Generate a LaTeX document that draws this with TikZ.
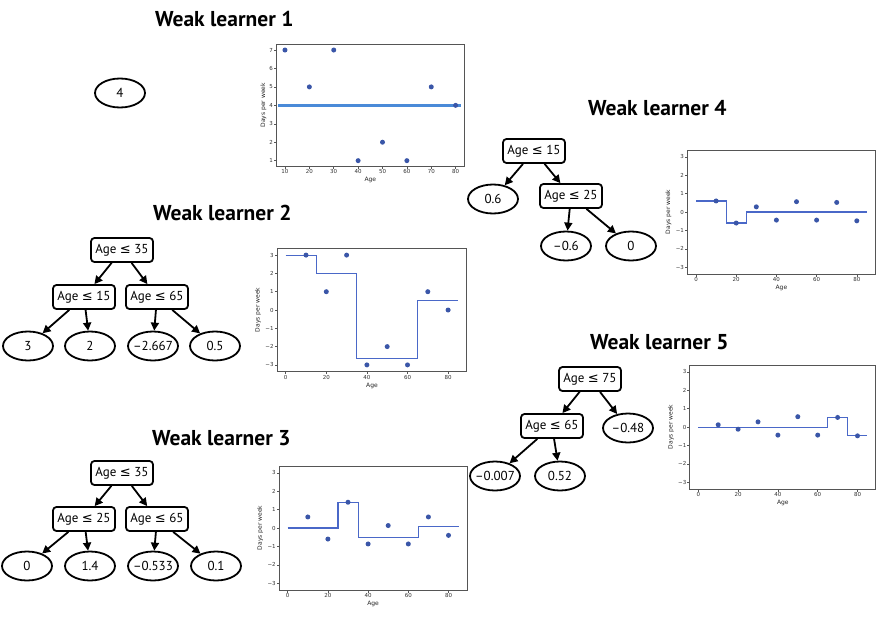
\documentclass[tikz,border=0pt]{standalone}
\usepackage{fontspec}
\setmainfont{PT Sans}
\newfontfamily\dvs{DejaVu Sans}
\usetikzlibrary{shapes.geometric,arrows.meta}
\definecolor{ptblue}{HTML}{3A56A8}
\definecolor{lnblue}{HTML}{4A68C8}
\definecolor{meanblue}{HTML}{4A8AD8}
\definecolor{framec}{HTML}{555555}
\newcommand{\lesym}{{\dvs ≤}}
\tikzset{
  split/.style={draw, line width=1.8pt, rounded corners=3.5pt, minimum width=62pt, minimum height=24pt, inner sep=2pt, font=\fontsize{13}{15}\selectfont},
  leaf/.style={draw, ellipse, line width=1.8pt, minimum width=50pt, minimum height=29pt, inner xsep=-3pt, inner ysep=1pt, font=\fontsize{13}{15}\selectfont},
  edge/.style={line width=1.8pt, -{Triangle[length=8pt,width=8pt]}},
  title/.style={anchor=base west, inner sep=0pt, font=\fontsize{21.5}{24}\selectfont\bfseries},
  ticklab/.style={font=\dvs\fontsize{5.5}{6}\selectfont, text=black!80, inner sep=0.8pt},
  axlab/.style={font=\dvs\fontsize{6}{7}\selectfont, text=black!85, inner sep=0pt},
  frm/.style={framec, line width=0.9pt},
  tck/.style={framec, line width=0.5pt},
  dot/.style={fill=ptblue},
  stepline/.style={lnblue, line width=1.1pt}
}
\newcommand{\residaxes}{%
  \draw[frm] (-4.25,-3.37) rectangle (89.25,3.37);
  \foreach \t in {0,20,40,60,80} {\draw[tck] (\t,-3.37) -- ++(0,-2.5pt) node[below,ticklab]{\t};}
  \foreach \t/\l in {-3/−3,-2/−2,-1/−1,0/0,1/1,2/2,3/3} {\draw[tck] (-4.25,\t) -- ++(-2.5pt,0) node[left,ticklab]{\l};}
  \path (42.5,-3.37) ++(0,-11pt) node[below,axlab]{Age};
  \path (-4.25,0) ++(-19pt,0) node[axlab,rotate=90]{Days per week};
}
\begin{document}
\begin{tikzpicture}[x=1pt,y=-1pt]
\useasboundingbox (0,0) rectangle (891,621);
\fill[white] (0,0) rectangle (891,621);

% titles
\node[title] (t1) at (155,27) {Weak learner 1};
\node[title] (t2) at (153,220) {Weak learner 2};
\node[title] (t3) at (152,445) {Weak learner 3};
\node[title] (t4) at (588,115) {Weak learner 4};
\node[title] (t5) at (590,349) {Weak learner 5};

% tree 1
\node[leaf] (L1) at (120,93) {4};

% tree 2
\node[split] (r2) at (122,250) {Age \lesym{} 35};
\node[split] (a2) at (84,297) {Age \lesym{} 15};
\node[split] (b2) at (157,297) {Age \lesym{} 65};
\node[leaf] (c2) at (28,346) {3};
\node[leaf] (d2) at (90,346) {2};
\node[leaf] (e2) at (153,346) {–2.667};
\node[leaf] (f2) at (215,346) {0.5};
\draw[edge] (r2) -- (a2);
\draw[edge] (r2) -- (b2);
\draw[edge] (a2) -- (c2);
\draw[edge] (a2) -- (d2);
\draw[edge] (b2) -- (e2);
\draw[edge] (b2) -- (f2);

% tree 3
\node[split] (r3) at (122,473) {Age \lesym{} 35};
\node[split] (a3) at (84,519) {Age \lesym{} 25};
\node[split] (b3) at (157,519) {Age \lesym{} 65};
\node[leaf] (c3) at (27,566) {0};
\node[leaf] (d3) at (90,566) {1.4};
\node[leaf] (e3) at (153,566) {–0.533};
\node[leaf] (f3) at (216,566) {0.1};
\draw[edge] (r3) -- (a3);
\draw[edge] (r3) -- (b3);
\draw[edge] (a3) -- (c3);
\draw[edge] (a3) -- (d3);
\draw[edge] (b3) -- (e3);
\draw[edge] (b3) -- (f3);

% tree 4
\node[split] (r4) at (534,151) {Age \lesym{} 15};
\node[leaf] (l4) at (493,199) {0.6};
\node[split] (a4) at (571,196) {Age \lesym{} 25};
\node[leaf] (c4) at (566,246) {–0.6};
\node[leaf] (d4) at (631,246) {0};
\draw[edge] (r4) -- (l4);
\draw[edge] (r4) -- (a4);
\draw[edge] (a4) -- (c4);
\draw[edge] (a4) -- (d4);

% tree 5
\node[split] (r5) at (590,379) {Age \lesym{} 75};
\node[split] (a5) at (552,426) {Age \lesym{} 65};
\node[leaf] (l5) at (628,428) {–0.48};
\node[leaf] (c5) at (495,476) {–0.007};
\node[leaf] (d5) at (560,476) {0.52};
\draw[edge] (r5) -- (a5);
\draw[edge] (r5) -- (l5);
\draw[edge] (a5) -- (c5);
\draw[edge] (a5) -- (d5);

% plot 1
\begin{scope}[shift={(260.6pt,-179.1pt)}, x=2.438pt, y=18.44pt]
  \draw[frm] (6.5,0.7) rectangle (83.5,7.3);
  \foreach \t in {10,20,...,80} {\draw[tck] (\t,0.7) -- ++(0,-2.5pt) node[below,ticklab]{\t};}
  \foreach \t in {1,...,7} {\draw[tck] (6.5,\t) -- ++(-2.5pt,0) node[left,ticklab]{\t};}
  \path (45,0.7) ++(0,-11pt) node[below,axlab]{Age};
  \path (6.5,4) ++(-13pt,0) node[axlab,rotate=90]{Days per week};
  \draw[meanblue, line width=2.6pt] (7.2,4) -- (82.4,4);
  \foreach \a/\v in {10/7,20/5,30/7,40/1,50/2,60/1,70/5,80/4} {\fill[dot] (\a,\v) circle (2.5pt);}
\end{scope}

% plot 2
\begin{scope}[shift={(285.7pt,-310pt)}, x=2.03pt, y=18.3pt]
  \residaxes
  \draw[stepline] (0,3) -- (15,3) -- (15,2) -- (35,2) -- (35,-2.667) -- (65,-2.667) -- (65,0.5) -- (85,0.5);
  \foreach \a/\v in {10/3,20/1,30/3,40/-3,50/-2,60/-3,70/1,80/0} {\fill[dot] (\a,\v) circle (2.5pt);}
\end{scope}

% plot 3
\begin{scope}[shift={(287.7pt,-528pt)}, x=2.01pt, y=18.4pt]
  \residaxes
  \draw[stepline] (0,0) -- (25,0) -- (25,1.4) -- (35,1.4) -- (35,-0.533) -- (65,-0.533) -- (65,0.1) -- (85,0.1);
  \foreach \a/\v in {10/0.6,20/-0.6,30/1.4,40/-0.867,50/0.133,60/-0.867,70/0.6,80/-0.4} {\fill[dot] (\a,\v) circle (2.5pt);}
\end{scope}

% plot 4
\begin{scope}[shift={(696pt,-212pt)}, x=2.01pt, y=18.4pt]
  \residaxes
  \draw[stepline] (0,0.6) -- (15,0.6) -- (15,-0.6) -- (25,-0.6) -- (25,0) -- (85,0);
  \foreach \a/\v in {10/0.6,20/-0.6,30/0.28,40/-0.44,50/0.56,60/-0.44,70/0.52,80/-0.48} {\fill[dot] (\a,\v) circle (2.5pt);}
\end{scope}

% plot 5
\begin{scope}[shift={(698.3pt,-427pt)}, x=1.99pt, y=18.4pt]
  \residaxes
  \draw[stepline] (0,-0.007) -- (65,-0.007) -- (65,0.52) -- (75,0.52) -- (75,-0.48) -- (85,-0.48);
  \foreach \a/\v in {10/0.12,20/-0.12,30/0.28,40/-0.44,50/0.56,60/-0.44,70/0.52,80/-0.48} {\fill[dot] (\a,\v) circle (2.5pt);}
\end{scope}
\end{tikzpicture}
\end{document}
